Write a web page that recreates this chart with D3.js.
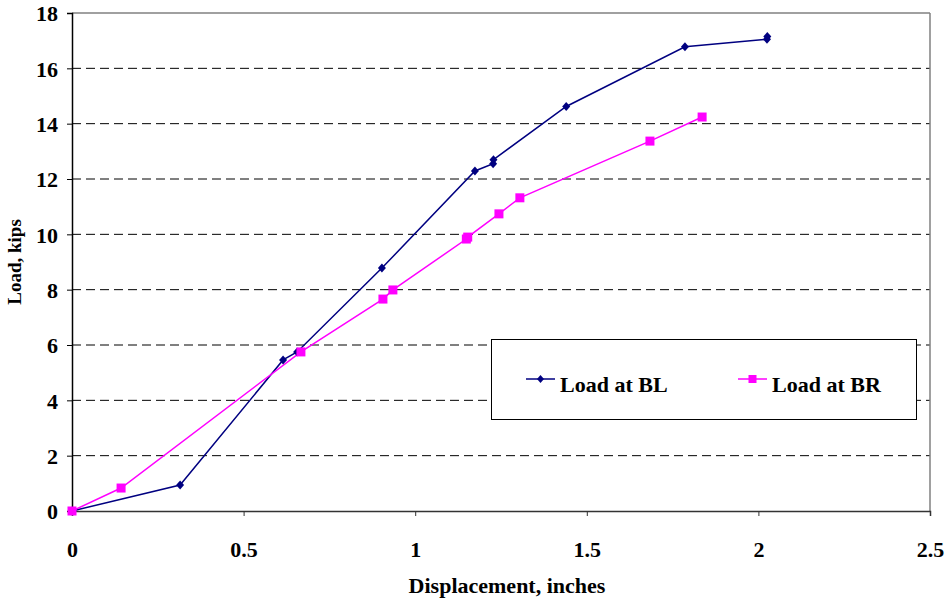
<!DOCTYPE html>
<html>
<head>
<meta charset="utf-8">
<script src="https://cdn.jsdelivr.net/npm/d3@7"></script>
<style>
  html, body { margin: 0; padding: 0; background: #fff; }
  svg { display: block; }
</style>
</head>
<body>
<svg id="chart" width="949" height="601"></svg>
<script>
// Load–displacement readings for the two bearing gauges
const blDisp = [0, 0.315, 0.615, 0.656, 0.903, 1.174, 1.227, 1.228, 1.44, 1.786, 2.025, 2.026];
const blLoad = [0, 0.94, 5.46, 5.75, 8.78, 12.29, 12.55, 12.70, 14.62, 16.78, 17.05, 17.15];
const brDisp = [0, 0.143, 0.667, 0.906, 0.935, 1.149, 1.153, 1.244, 1.305, 1.684, 1.836];
const brLoad = [0, 0.83, 5.75, 7.66, 7.99, 9.83, 9.90, 10.74, 11.32, 13.37, 14.24];

const xTicks = [0, 0.5, 1, 1.5, 2, 2.5];
const yTicks = [0, 2, 4, 6, 8, 10, 12, 14, 16, 18];

const seriesNames = ["Load at BL", "Load at BR"];
const seriesColors = ["#000080", "#FF00FF"];

const FONT = '"Liberation Serif", "Times New Roman", serif';

const svg = d3.select("#chart");
const plotL = 72, plotR = 930, plotT = 13, plotB = 511;

const x = d3.scaleLinear().domain([0, 2.5]).range([plotL, plotR]);
const y = d3.scaleLinear().domain([0, 18]).range([plotB, plotT]);

function styleText(sel, size) {
  return sel.style("font-family", FONT).style("font-weight", "bold")
    .style("font-size", size + "px").attr("fill", "#000");
}

// Dashed horizontal gridlines
svg.append("g").selectAll("line")
  .data(yTicks.filter(d => d > 0 && d < 18))
  .join("line")
  .attr("x1", plotL).attr("x2", plotR)
  .attr("y1", d => y(d)).attr("y2", d => y(d))
  .attr("stroke", "#000").attr("stroke-width", 1)
  .attr("stroke-dasharray", "9,5");

// Plot frame (top and right in grey)
svg.append("line").attr("x1", plotL).attr("x2", plotR).attr("y1", y(18)).attr("y2", y(18))
  .attr("stroke", "#808080").attr("stroke-width", 1.5);
svg.append("line").attr("x1", plotR).attr("x2", plotR).attr("y1", y(18)).attr("y2", plotB)
  .attr("stroke", "#808080").attr("stroke-width", 1.5);

// Axes
const yAxis = d3.axisLeft(y).tickValues(yTicks).tickSize(5).tickFormat(d3.format("d"));
const yg = svg.append("g").attr("transform", `translate(${plotL},0)`).call(yAxis);
yg.attr("font-family", null).attr("font-size", null);
yg.select(".domain").attr("stroke", "#000").attr("stroke-width", 1.5);
yg.selectAll(".tick line").attr("stroke", "#000");
styleText(yg.selectAll(".tick text").attr("x", -14).attr("dy", "0.36em"), 22);

const xAxis = d3.axisBottom(x).tickValues(xTicks).tickSize(5).tickFormat(d => String(d));
const xg = svg.append("g").attr("transform", `translate(0,${plotB})`).call(xAxis);
xg.attr("font-family", null).attr("font-size", null);
xg.select(".domain").attr("stroke", "#333").attr("stroke-width", 1.5);
xg.selectAll(".tick line").attr("stroke", "#333");
styleText(xg.selectAll(".tick text").attr("y", 46).attr("dy", 0), 22);

// Axis titles
styleText(svg.append("text").attr("x", 507).attr("y", 593).attr("text-anchor", "middle"), 22)
  .text("Displacement, inches");
styleText(svg.append("text").attr("transform", `translate(21,${(plotT + plotB) / 2}) rotate(-90)`)
  .attr("text-anchor", "middle"), 19).text("Load, kips");

// Series
const line = d3.line().x(d => x(d[0])).y(d => y(d[1]));
const blPts = blDisp.map((d, i) => [d, blLoad[i]]);
const brPts = brDisp.map((d, i) => [d, brLoad[i]]);

svg.append("path").datum(blPts).attr("d", line)
  .attr("fill", "none").attr("stroke", seriesColors[0]).attr("stroke-width", 1.5);
svg.append("path").datum(brPts).attr("d", line)
  .attr("fill", "none").attr("stroke", seriesColors[1]).attr("stroke-width", 1.5);

const diamond = "M0,-4.5L4,0L0,4.5L-4,0Z";
svg.append("g").selectAll("path").data(blPts).join("path")
  .attr("transform", d => `translate(${x(d[0])},${y(d[1])})`)
  .attr("d", diamond).attr("fill", seriesColors[0]);

svg.append("g").selectAll("rect").data(brPts).join("rect")
  .attr("x", d => x(d[0]) - 4.5).attr("y", d => y(d[1]) - 4.5)
  .attr("width", 9).attr("height", 9).attr("fill", seriesColors[1]);

// Legend
const lg = svg.append("g");
lg.append("rect").attr("x", 491.5).attr("y", 339.5).attr("width", 425).attr("height", 80)
  .attr("fill", "#fff").attr("stroke", "#000").attr("stroke-width", 1);

const legendItems = [
  { name: seriesNames[0], color: seriesColors[0], x0: 526, shape: "diamond" },
  { name: seriesNames[1], color: seriesColors[1], x0: 738, shape: "square" }
];
legendItems.forEach(it => {
  lg.append("line").attr("x1", it.x0).attr("x2", it.x0 + 29).attr("y1", 379).attr("y2", 379)
    .attr("stroke", it.color).attr("stroke-width", 1.5);
  if (it.shape === "diamond") {
    lg.append("path").attr("transform", `translate(${it.x0 + 14.5},379)`)
      .attr("d", "M0,-4L3.5,0L0,4L-3.5,0Z").attr("fill", it.color);
  } else {
    lg.append("rect").attr("x", it.x0 + 14.5 - 4).attr("y", 375).attr("width", 8).attr("height", 8)
      .attr("fill", it.color);
  }
  styleText(lg.append("text").attr("x", it.x0 + 34).attr("y", 392), 22).text(it.name);
});
</script>
</body>
</html>
